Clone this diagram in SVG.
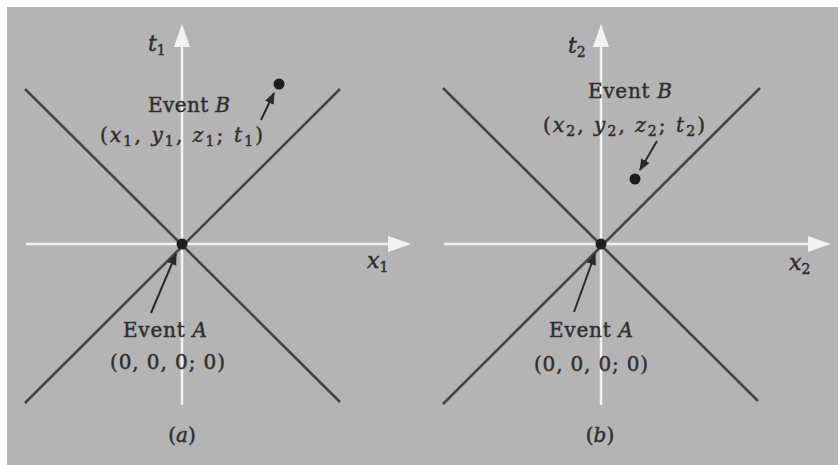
<svg xmlns="http://www.w3.org/2000/svg" width="838" height="465" viewBox="0 0 838 465">
<defs>
<style>
.bg{fill:#b4b4b4}
.axis{stroke:#f2f2f2;stroke-width:2.5;fill:none}
.ahead{fill:#f2f2f2}
.cone{stroke:#454545;stroke-width:2.6;fill:none}
.ptr{stroke:#2a2a2a;stroke-width:2;fill:none;marker-end:url(#ah)}
.dot{fill:#1e1e1e}
text{font-family:"DejaVu Serif","Liberation Serif",serif;font-size:20px;fill:#2e2e2e;stroke:#2e2e2e;stroke-width:0.45}
.i{font-style:italic}
.s{font-size:14px}
.v{font-size:22px;font-style:italic}
</style>
<marker id="ah" viewBox="0 0 10 10" refX="9" refY="5" markerWidth="6" markerHeight="6" orient="auto" markerUnits="strokeWidth">
<path d="M0,1 L10,5 L0,9 Z" fill="#2a2a2a"/>
</marker>
</defs>
<rect x="0" y="0" width="838" height="465" fill="#ffffff"/>
<rect class="bg" x="7" y="7" width="831" height="458"/>

<g id="panel-a">
<g id="axes-a">
<line class="axis" x1="182" y1="405" x2="182" y2="44"/>
<polygon class="ahead" points="182,24 174,47 190,47"/>
<line class="axis" x1="26" y1="244" x2="391" y2="244"/>
<polygon class="ahead" points="411,244 388,236 388,252"/>
</g>
<g id="cone-a">
<line class="cone" x1="25" y1="89" x2="340" y2="402"/>
<line class="cone" x1="25" y1="403" x2="340" y2="89"/>
</g>
<g id="eventA-a">
<circle class="dot" cx="182" cy="244" r="5.5"/>
<text x="123" y="337" textLength="84" lengthAdjust="spacing">Event <tspan class="i">A</tspan></text>
<text x="110" y="369" textLength="115" lengthAdjust="spacing">(0, 0, 0; 0)</text>
</g>
<g id="eventB-a">
<circle class="dot" cx="279" cy="84" r="5.5"/>
<text x="148" y="112" textLength="82" lengthAdjust="spacing">Event <tspan class="i">B</tspan></text>
<text x="100" y="142" textLength="163" lengthAdjust="spacing">(<tspan class="i">x</tspan><tspan class="s" dy="4">1</tspan><tspan dy="-4">, </tspan><tspan class="i">y</tspan><tspan class="s" dy="4">1</tspan><tspan dy="-4">, </tspan><tspan class="i">z</tspan><tspan class="s" dy="4">1</tspan><tspan dy="-4">; </tspan><tspan class="i">t</tspan><tspan class="s" dy="4">1</tspan><tspan dy="-4">)</tspan></text>
</g>
<text class="v" x="148" y="51">t<tspan class="s" dy="4" font-style="normal">1</tspan></text>
<text class="v" x="367" y="268">x<tspan class="s" dy="4" font-style="normal">1</tspan></text>
<text x="182" y="442" text-anchor="middle">(<tspan class="i">a</tspan>)</text>
</g>

<g id="panel-b">
<g id="axes-b">
<line class="axis" x1="601" y1="405" x2="601" y2="44"/>
<polygon class="ahead" points="601,24 593,47 609,47"/>
<line class="axis" x1="444" y1="244" x2="810" y2="244"/>
<polygon class="ahead" points="831,244 808,236 808,252"/>
</g>
<g id="cone-b">
<line class="cone" x1="443" y1="88" x2="758" y2="401"/>
<line class="cone" x1="443" y1="404" x2="760" y2="88"/>
</g>
<g id="eventA-b">
<circle class="dot" cx="601" cy="244" r="5.5"/>
<text x="549" y="337" textLength="84" lengthAdjust="spacing">Event <tspan class="i">A</tspan></text>
<text x="534" y="371" textLength="114" lengthAdjust="spacing">(0, 0, 0; 0)</text>
</g>
<g id="eventB-b">
<circle class="dot" cx="635" cy="179" r="5.5"/>
<text x="588" y="98" textLength="84" lengthAdjust="spacing">Event <tspan class="i">B</tspan></text>
<text x="543" y="132" textLength="162" lengthAdjust="spacing">(<tspan class="i">x</tspan><tspan class="s" dy="4">2</tspan><tspan dy="-4">, </tspan><tspan class="i">y</tspan><tspan class="s" dy="4">2</tspan><tspan dy="-4">, </tspan><tspan class="i">z</tspan><tspan class="s" dy="4">2</tspan><tspan dy="-4">; </tspan><tspan class="i">t</tspan><tspan class="s" dy="4">2</tspan><tspan dy="-4">)</tspan></text>
</g>
<text class="v" x="568" y="53">t<tspan class="s" dy="4" font-style="normal">2</tspan></text>
<text class="v" x="789" y="270">x<tspan class="s" dy="4" font-style="normal">2</tspan></text>
<text x="600" y="442" text-anchor="middle">(<tspan class="i">b</tspan>)</text>
</g>

<g id="connectors">
<line class="ptr" x1="261" y1="120" x2="274" y2="93"/>
<line class="ptr" x1="151" y1="313" x2="176" y2="254"/>
<line class="ptr" x1="657" y1="141" x2="640" y2="170"/>
<line class="ptr" x1="574" y1="312" x2="595" y2="254"/>
</g>
</svg>
